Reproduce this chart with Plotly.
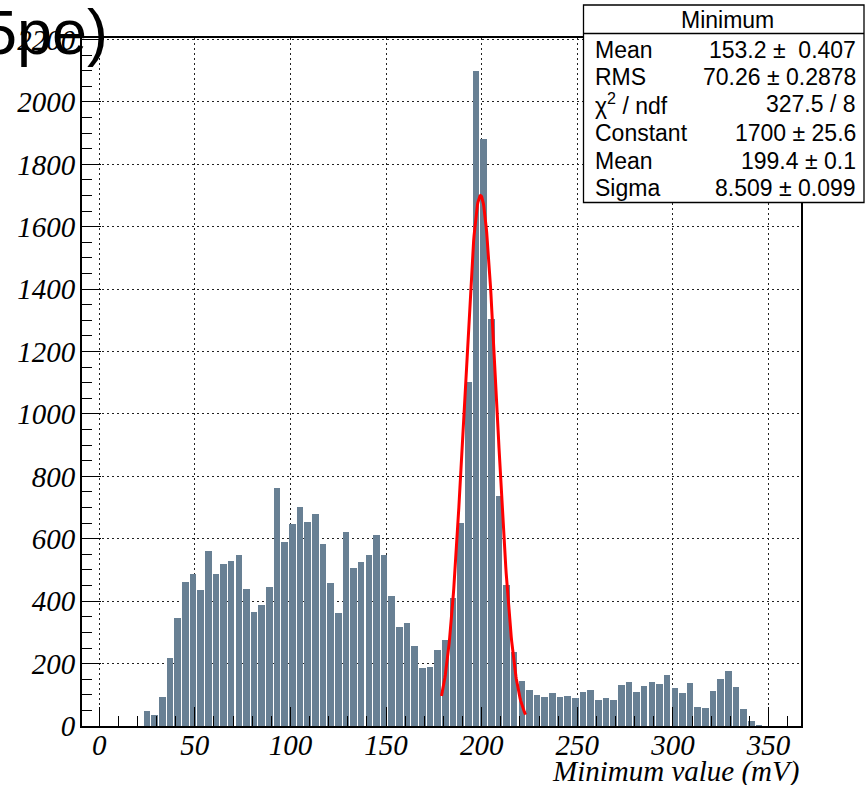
import numpy as np
import plotly.graph_objects as go

# Histogram of the per-event minimum (4 mV bins, centres 25 ... 345 mV)
bin_width = 4
bin_centers = [25 + bin_width * i for i in range(81)]
counts = [
    48, 35, 93, 218, 347, 462, 488, 437, 562, 488,
    520, 530, 549, 440, 366, 388, 446, 764, 591, 648,
    703, 655, 680, 584, 459, 363, 623, 507, 526, 549,
    613, 549, 417, 318, 331, 257, 186, 189, 244, 276,
    411, 652, 1101, 2100, 1880, 1305, 738, 452, 237, 144,
    116, 100, 93, 106, 93, 96, 90, 109, 116, 83,
    90, 83, 131, 141, 109, 128, 141, 135, 164, 122,
    106, 138, 61, 58, 112, 151, 177, 125, 55, 16,
    3,
]

# Gaussian fit result
fit_constant = 1700.0
fit_mean = 199.4
fit_sigma = 8.509
fit_range = (179.0, 223.0)

# Statistics box contents
stats_title = "Minimum"
stats_labels = ["Mean", "RMS", "χ<sup>2</sup> / ndf", "Constant", "Mean", "Sigma"]
stats_values = ["153.2 ±\u00a0\u00a00.407", "70.26 ± 0.2878", "327.5 / 8",
                "1700 ± 25.6", "199.4 ± 0.1", "8.509 ± 0.099"]

x_ticks = [0, 50, 100, 150, 200, 250, 300, 350]
y_ticks = list(range(0, 2201, 200))

W, H = 865, 785
ML, MR, MT, MB = 82, 64, 38, 59
PW, PH = W - ML - MR, H - MT - MB


def px(x):
    return (x - ML) / PW


def py(y):
    return (H - MB - y) / PH


fx = np.linspace(fit_range[0], fit_range[1], 200)
fy = fit_constant * np.exp(-0.5 * ((fx - fit_mean) / fit_sigma) ** 2)

fig = go.Figure()
fig.add_trace(go.Bar(
    x=bin_centers, y=counts, width=bin_width * 0.86,
    marker=dict(color="#688094", line=dict(width=0)),
    showlegend=False, hoverinfo="x+y",
))
fig.add_trace(go.Scatter(
    x=fx, y=fy, mode="lines", line=dict(color="#ff0000", width=3),
    showlegend=False, hoverinfo="skip",
))

serif = dict(family="Liberation Serif", size=29, color="black", style="italic")
sans = "Liberation Sans"

axis_common = dict(
    showline=True, linecolor="black", linewidth=2, mirror=True,
    ticks="inside", ticklen=19, tickwidth=1, tickcolor="black",
    showgrid=True, gridcolor="#222", gridwidth=1, griddash="2px,3px",
    zeroline=False, tickfont=serif,
)

fig.update_layout(
    width=W, height=H, autosize=False,
    margin=dict(l=ML, r=MR, t=MT, b=MB),
    paper_bgcolor="white", plot_bgcolor="white",
    bargap=0,
    xaxis=dict(
        range=[-9, 367], tickmode="array", tickvals=x_ticks,
        ticktext=[str(v) for v in x_ticks],
        minor=dict(dtick=10, tick0=0, ticks="inside", ticklen=10,
                   tickcolor="black", tickwidth=1, showgrid=False),
        ticklabelstandoff=-8,
        **axis_common,
    ),
    yaxis=dict(
        range=[0, 2205], tickmode="array", tickvals=y_ticks,
        ticktext=[str(v) for v in y_ticks],
        minor=dict(dtick=50, tick0=0, ticks="inside", ticklen=10,
                   tickcolor="black", tickwidth=1, showgrid=False),
        ticklabelstandoff=-1,
        **axis_common,
    ),
)

# Axis title, right-aligned under the frame
fig.add_annotation(
    text="Minimum value (mV)", xref="paper", yref="paper",
    x=1.0, y=py(771), xanchor="right", yanchor="middle",
    showarrow=False, font=serif,
)

# Large title running off the left edge
fig.add_annotation(
    text="5pe)", xref="paper", yref="paper",
    x=px(110), y=py(32), xanchor="right", yanchor="middle",
    showarrow=False, font=dict(family=sans, size=63, color="black"),
)

# Statistics box
box_l, box_r, box_t, box_b, box_sep = 583.5, 864, 5, 202.5, 33.5
fig.add_shape(type="rect", xref="paper", yref="paper", layer="above",
              x0=px(box_l), x1=px(box_r), y0=py(box_b), y1=py(box_t),
              fillcolor="white", line=dict(color="black", width=1.3))
fig.add_shape(type="line", xref="paper", yref="paper", layer="above",
              x0=px(box_l), x1=px(box_r), y0=py(box_sep), y1=py(box_sep),
              line=dict(color="black", width=1.3))
fig.add_annotation(text=stats_title, xref="paper", yref="paper",
                   x=px((box_l + box_r) / 2 + 4), y=py(20), xanchor="center",
                   yanchor="middle", showarrow=False,
                   font=dict(family=sans, size=23, color="black"))
stat_font = dict(family=sans, size=23, color="black")
row_y = [50, 77, 104, 133, 161, 188]
for lab, val, yy in zip(stats_labels, stats_values, row_y):
    fig.add_annotation(text=lab, xref="paper", yref="paper", x=px(593),
                       y=py(yy), xanchor="left", yanchor="middle",
                       showarrow=False, font=stat_font)
    fig.add_annotation(text=val, xref="paper", yref="paper", x=px(858),
                       y=py(yy), xanchor="right", yanchor="middle",
                       showarrow=False, font=stat_font)

fig.write_html("out.html")
